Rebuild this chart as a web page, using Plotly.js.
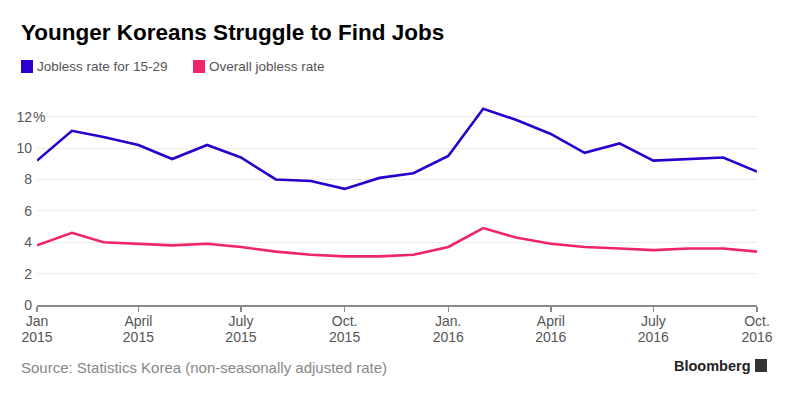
<!DOCTYPE html>
<html>
<head>
<meta charset="utf-8">
<script src="https://cdn.plot.ly/plotly-3.0.1.min.js"></script>
<style>
html,body{margin:0;padding:0;background:#fff;}
#chart{width:788px;height:395px;}
</style>
</head>
<body>
<div id="chart"></div>
<script>
const months = ["2015-01-01","2015-02-01","2015-03-01","2015-04-01","2015-05-01","2015-06-01","2015-07-01","2015-08-01","2015-09-01","2015-10-01","2015-11-01","2015-12-01","2016-01-01","2016-02-01","2016-03-01","2016-04-01","2016-05-01","2016-06-01","2016-07-01","2016-08-01","2016-09-01","2016-10-01"];
const youthRate = [9.2,11.1,10.7,10.2,9.3,10.2,9.4,8.0,7.9,7.4,8.1,8.4,9.5,12.5,11.8,10.9,9.7,10.3,9.2,9.3,9.4,8.5];
const overallRate = [3.8,4.6,4.0,3.9,3.8,3.9,3.7,3.4,3.2,3.1,3.1,3.2,3.7,4.9,4.3,3.9,3.7,3.6,3.5,3.6,3.6,3.4];
const seriesNames = ["Jobless rate for 15-29","Overall jobless rate"];
const xTickVals = ["2015-01-01","2015-04-01","2015-07-01","2015-10-01","2016-01-01","2016-04-01","2016-07-01","2016-10-01"];
const xTickMonths = ["Jan","April","July","Oct.","Jan.","April","July","Oct."];
const xTickYears = ["2015","2015","2015","2015","2016","2016","2016","2016"];
const yTickVals = [0,2,4,6,8,10,12];
const yTickText = ["0","2","4","6","8","10","12"];

const BLUE = "#2a00cc";
const RED = "#f0246a";
const FONT = "Liberation Sans, Arial, Helvetica, sans-serif";

const traces = [
  {x: months, y: youthRate, name: seriesNames[0], type: "scatter", mode: "lines",
   line: {color: BLUE, width: 2.6}, hoverinfo: "skip"},
  {x: months, y: overallRate, name: seriesNames[1], type: "scatter", mode: "lines",
   line: {color: RED, width: 2.6}, hoverinfo: "skip"},
  {x: [months[0]], y: [null], xaxis: "x2", type: "scatter", mode: "lines", showlegend: false, hoverinfo: "skip"}
];

const layout = {
  width: 788, height: 395,
  margin: {l: 37, r: 31, t: 101, b: 90},
  paper_bgcolor: "#fff", plot_bgcolor: "#fff",
  showlegend: false,
  font: {family: FONT, color: "#555"},
  title: {text: "<b>Younger Koreans Struggle to Find Jobs</b>", x: 21/788, xref: "container", xanchor: "left",
          font: {family: FONT, size: 22.5, color: "#000"}, y: 1 - 24/395, yanchor: "top", yref: "container", pad: {l: 0, t: 0}},
  xaxis: {
    type: "date", range: ["2015-01-01","2016-10-01"],
    tickvals: xTickVals, ticktext: xTickMonths,
    showgrid: false, zeroline: false,
    showline: true, linecolor: "#8a8a8a", linewidth: 1.5,
    ticks: "outside", ticklen: 5, tickcolor: "#8a8a8a", tickwidth: 1.5,
    tickfont: {family: FONT, size: 14, color: "#555"},
    ticklabelstandoff: -2,
    fixedrange: true
  },
  xaxis2: {
    type: "date", range: ["2015-01-01","2016-10-01"], overlaying: "x", anchor: "y", side: "bottom",
    matches: "x",
    tickvals: xTickVals, ticktext: xTickYears,
    showgrid: false, zeroline: false, showline: false,
    ticks: "", ticklen: 0,
    tickfont: {family: FONT, size: 14, color: "#555"},
    ticklabelstandoff: 22,
    fixedrange: true
  },
  yaxis: {
    range: [0, 13], tickvals: yTickVals, ticktext: yTickText,
    showgrid: true, gridcolor: "#ebebeb", gridwidth: 1,
    zeroline: false, showline: false, ticks: "",
    tickfont: {family: FONT, size: 14, color: "#555"},
    ticklabelstandoff: 4,
    fixedrange: true
  },
  shapes: [
    {type: "rect", xref: "paper", yref: "paper", x0: -16/720, x1: -4/720, y0: 1 + (101-73)/204, y1: 1 + (101-60)/204,
     fillcolor: BLUE, line: {width: 0}},
    {type: "rect", xref: "paper", yref: "paper", x0: 156/720, x1: 168/720, y0: 1 + (101-73)/204, y1: 1 + (101-60)/204,
     fillcolor: RED, line: {width: 0}},
    {type: "rect", xref: "paper", yref: "paper", x0: 718/720, x1: 730/720, y0: -(359-305)/204, y1: -(372-305)/204,
     fillcolor: "#333", line: {width: 0}}
  ],
  annotations: [
    {text: "%", xref: "paper", yref: "y", x: 0, y: 12, xanchor: "left", yanchor: "middle", xshift: -5,
     showarrow: false, bgcolor: "#fff", borderpad: 0, font: {family: FONT, size: 14, color: "#555"}},
    {text: seriesNames[0], xref: "paper", yref: "paper", x: 0, y: 1 + (101-67)/204, xshift: -2,
     xanchor: "left", yanchor: "middle", showarrow: false, font: {family: FONT, size: 13.5, color: "#555"}},
    {text: seriesNames[1], xref: "paper", yref: "paper", x: 172/720, y: 1 + (101-67)/204, xshift: -2,
     xanchor: "left", yanchor: "middle", showarrow: false, font: {family: FONT, size: 13.5, color: "#555"}},
    {text: "Source: Statistics Korea (non-seasonally adjusted rate)", xref: "paper", yref: "paper",
     x: -18/720, y: -(367-305)/204, xanchor: "left", yanchor: "middle", showarrow: false,
     font: {family: FONT, size: 15, color: "#888"}},
    {text: "<b>Bloomberg</b>", xref: "paper", yref: "paper",
     x: 716/720, y: -(366-305)/204, xanchor: "right", yanchor: "middle", showarrow: false,
     font: {family: FONT, size: 14.5, color: "#222"}}
  ]
};

Plotly.newPlot("chart", traces, layout, {displayModeBar: false, staticPlot: true});
</script>
</body>
</html>
